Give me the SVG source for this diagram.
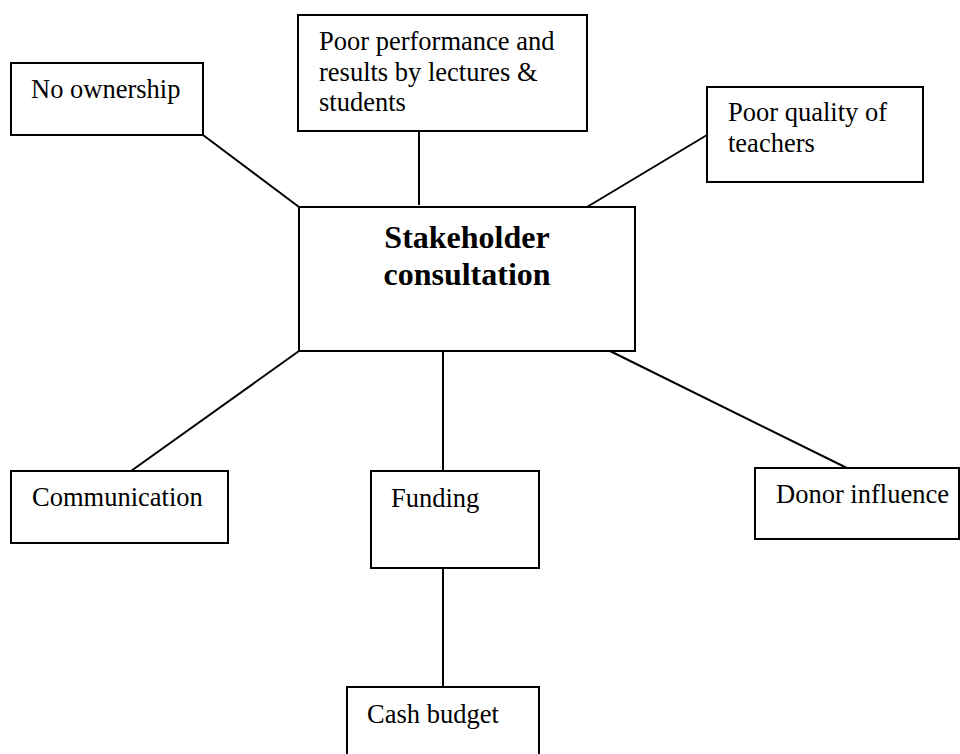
<svg xmlns="http://www.w3.org/2000/svg" width="960" height="754" viewBox="0 0 960 754">
<style>
.box{fill:#fff;stroke:#000;stroke-width:2}
.t{font-family:"Liberation Serif","Times New Roman",serif;font-size:26.5px;fill:#000}
.b{font-family:"Liberation Serif","Times New Roman",serif;font-size:32px;font-weight:bold;fill:#000}
.c line{stroke:#000;stroke-width:2}
</style>
<rect width="960" height="754" fill="#fff"/>
<g class="c" id="connectors">
<line x1="203" y1="135" x2="299" y2="207"/>
<line x1="419" y1="131" x2="419" y2="205"/>
<line x1="707" y1="135" x2="587" y2="207"/>
<line x1="299" y1="351" x2="131" y2="471"/>
<line x1="443" y1="351" x2="443" y2="471"/>
<line x1="610" y1="351" x2="851" y2="470"/>
<line x1="443" y1="568" x2="443" y2="687"/>
</g>
<g id="no-ownership"><rect class="box" x="11" y="63" width="192" height="72"/><text class="t" x="31" y="98">No ownership</text></g>
<g id="poor-performance"><rect class="box" x="298" y="15" width="289" height="116"/><text class="t" x="319" y="50">Poor performance and</text><text class="t" x="319" y="81">results by lectures &amp;</text><text class="t" x="319" y="111">students</text></g>
<g id="poor-quality"><rect class="box" x="707" y="87" width="216" height="95"/><text class="t" x="728" y="121">Poor quality of</text><text class="t" x="728" y="152">teachers</text></g>
<g id="stakeholder"><rect class="box" x="299" y="207" width="336" height="144"/><text class="b" x="467" y="248" text-anchor="middle">Stakeholder</text><text class="b" x="467" y="285" text-anchor="middle">consultation</text></g>
<g id="communication"><rect class="box" x="11" y="471" width="217" height="72"/><text class="t" x="32" y="506">Communication</text></g>
<g id="funding"><rect class="box" x="371" y="471" width="168" height="97"/><text class="t" x="391" y="507">Funding</text></g>
<g id="donor"><rect class="box" x="755" y="468" width="204" height="71"/><text class="t" x="776" y="503">Donor influence</text></g>
<g id="cash-budget"><rect class="box" x="347" y="687" width="192" height="80"/><text class="t" x="367" y="723">Cash budget</text></g>
</svg>
